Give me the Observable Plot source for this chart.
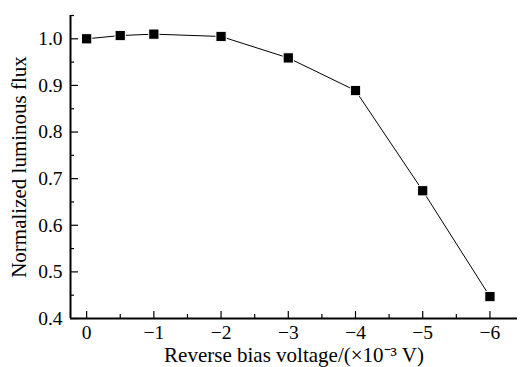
<!DOCTYPE html>
<html>
<head>
<meta charset="utf-8">
<script src="https://cdn.jsdelivr.net/npm/d3@7"></script>
<script src="https://cdn.jsdelivr.net/npm/@observablehq/plot@0.6"></script>
<style>
  html, body { margin: 0; padding: 0; background: #fff; }
</style>
</head>
<body>
<div id="chart"></div>
<script>
const voltage = [0, -0.5, -1, -2, -3, -4, -5, -6];
const flux = [1.000, 1.007, 1.010, 1.005, 0.959, 0.889, 0.674, 0.447];
const xMajorTicks = [0, -1, -2, -3, -4, -5, -6];
const xMinorTicks = [-0.5, -1.5, -2.5, -3.5, -4.5, -5.5];
const yMajorTicks = [0.4, 0.5, 0.6, 0.7, 0.8, 0.9, 1.0];
const yMinorTicks = [0.45, 0.55, 0.65, 0.75, 0.85, 0.95, 1.05];
const xLabel = "Reverse bias voltage/(×10⁻³ V)";
const yLabel = "Normalized luminous flux";

const data = voltage.map((v, i) => ({v, f: flux[i]}));

const W = 523, H = 367, mT = 15, mB = 49, mL = 70, mR = 6;
const fw = W - mL - mR, fh = H - mT - mB;
const xDomain = [0.24, -6.41];
const yDomain = [0.4, 1.05];

const fmtX = d => d === 0 ? "0" : "\u2212" + Math.abs(d);
const fmtY = d => d.toFixed(1);

const chart = Plot.plot({
  width: W, height: H,
  marginTop: mT, marginBottom: mB, marginLeft: mL, marginRight: mR,
  style: {fontFamily: "'Liberation Serif', 'Times New Roman', serif", fontSize: "19px", color: "#000", background: "#fff"},
  x: {domain: xDomain},
  y: {domain: yDomain},
  marks: [
    Plot.axisX(xMajorTicks, {tickSize: 0, tickPadding: 7, tickFormat: fmtX, fontSize: 19.5, label: null}),
    Plot.axisX({ticks: [], tickSize: 0, fontSize: 21, label: xLabel, labelAnchor: "center", labelOffset: 43, labelArrow: "none"}),
    Plot.axisY(yMajorTicks, {tickSize: 0, tickPadding: 8, tickFormat: fmtY, fontSize: 19.5, label: null}),
    Plot.axisY({ticks: [], tickSize: 0, fontSize: 21, label: yLabel, labelAnchor: "center", labelOffset: 59, labelArrow: "none"}),
    Plot.tickX(xMajorTicks, {x: d => d, insetTop: fh - 7, stroke: "#000", strokeWidth: 1.2}),
    Plot.tickX(xMinorTicks, {x: d => d, insetTop: fh - 4, stroke: "#000", strokeWidth: 1.2}),
    Plot.tickY(yMajorTicks, {y: d => d, insetRight: fw - 8, stroke: "#000", strokeWidth: 1.2}),
    Plot.tickY(yMinorTicks, {y: d => d, insetRight: fw - 4, stroke: "#000", strokeWidth: 1.2}),
    Plot.ruleY([yDomain[0]], {stroke: "#000", strokeWidth: 2}),
    Plot.ruleX([xDomain[0]], {stroke: "#000", strokeWidth: 2}),
    Plot.line(data, {x: "v", y: "f", stroke: "#000", strokeWidth: 1}),
    Plot.dot(data, {x: "v", y: "f", symbol: "square", r: 5.8, fill: "#000", stroke: "#fff", strokeWidth: 1})
  ]
});
document.getElementById("chart").appendChild(chart);
</script>
</body>
</html>
